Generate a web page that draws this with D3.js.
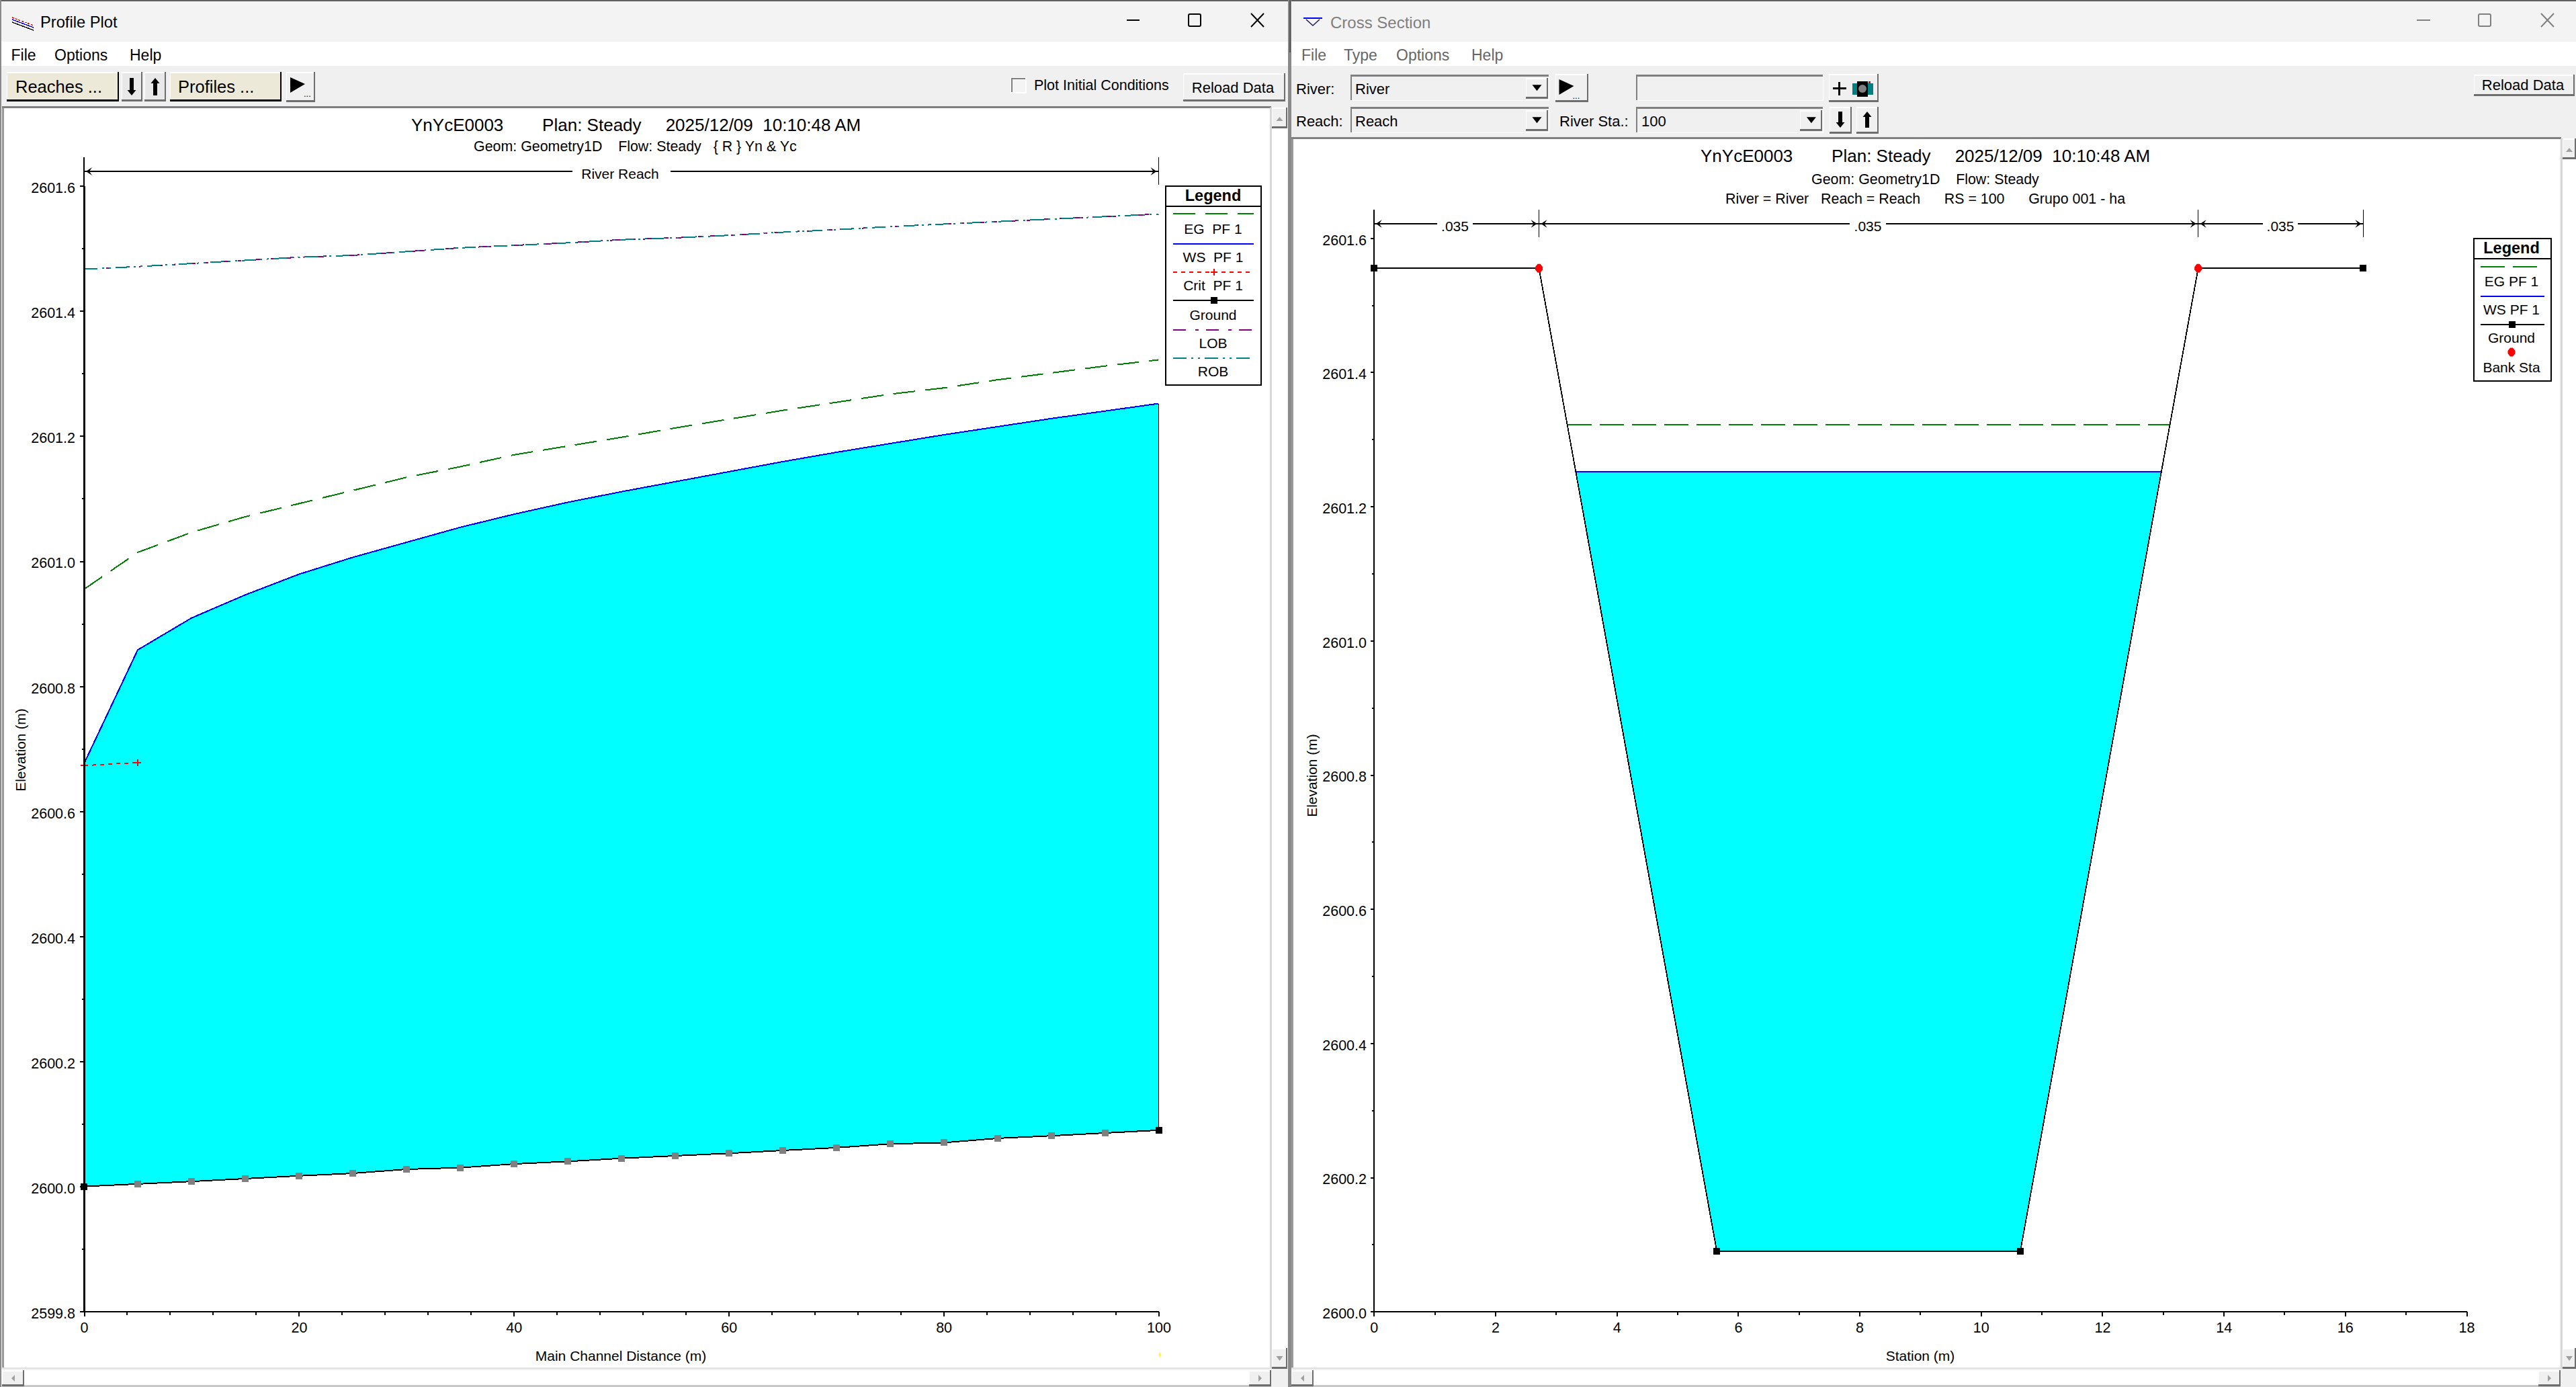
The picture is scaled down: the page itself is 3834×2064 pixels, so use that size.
<!DOCTYPE html>
<html><head><meta charset="utf-8">
<script src="https://cdn.jsdelivr.net/npm/d3@7/dist/d3.min.js"></script>
<style>
html,body{margin:0;padding:0;background:#f0f0f0;overflow:hidden}
svg{display:block}
text{font-family:"Liberation Sans",Arial,sans-serif;white-space:pre;fill:#000}
.crisp{shape-rendering:crispEdges}
</style></head><body>
<script>
// ---- Profile plot data
const profileStations=[0,5,10,15,20,25,30,35,40,45,50,55,60,65,70,75,80,85,90,95,100];
const groundElev=[2600.000,2600.004,2600.008,2600.0125,2600.017,2600.021,2600.0275,2600.030,2600.036,2600.040,2600.045,2600.049,2600.053,2600.0576,2600.062,2600.068,2600.070,2600.077,2600.081,2600.0855,2600.090];
const wsElev=[2600.676,2600.858,2600.909,2600.946,2600.979,2601.006,2601.030,2601.054,2601.075,2601.094,2601.111,2601.127,2601.143,2601.159,2601.174,2601.188,2601.202,2601.215,2601.228,2601.240,2601.252];
const egElev=[2600.955,2601.014,2601.046,2601.071,2601.092,2601.113,2601.134,2601.151,2601.170,2601.184,2601.198,2601.213,2601.227,2601.241,2601.254,2601.267,2601.277,2601.290,2601.301,2601.312,2601.322];
const bankElev=[2601.467,2601.471,2601.476,2601.481,2601.486,2601.489,2601.495,2601.501,2601.505,2601.509,2601.514,2601.517,2601.521,2601.526,2601.530,2601.535,2601.539,2601.543,2601.547,2601.551,2601.555];
const critStations=[0,5];
const critElev=[2600.673,2600.678];
const profileYTicks=[2599.8,2600.0,2600.2,2600.4,2600.6,2600.8,2601.0,2601.2,2601.4,2601.6];
const profileYMinor=[2599.9,2600.1,2600.3,2600.5,2600.7,2600.9,2601.1,2601.3,2601.5];
const profileXTicks=[0,20,40,60,80,100];
const profileXMinor=[4,8,12,16,24,28,32,36,44,48,52,56,64,68,72,76,84,88,92,96];
const profileLegend=["EG  PF 1","WS  PF 1","Crit  PF 1","Ground","LOB","ROB"];
// ---- Cross section data
const xsStations=[0,2.72,5.65,10.65,13.58,16.3];
const xsGround=[2601.555,2601.555,2600.09,2600.09,2601.555,2601.555];
const xsBankStations=[2.72,13.58];
const xsBankElev=[2601.555,2601.555];
const xsEndStations=[0,5.65,10.65,16.3];
const xsEndElev=[2601.555,2600.09,2600.09,2601.555];
const xsWaterStations=[3.33,5.65,10.65,12.97];
const xsWaterFloor=[2601.252,2600.09,2600.09,2601.252];
const xsWsLevel=2601.252;
const xsEgStations=[3.19,13.11];
const xsEgLevel=2601.322;
const xsYTicks=[2600.0,2600.2,2600.4,2600.6,2600.8,2601.0,2601.2,2601.4,2601.6];
const xsYMinor=[2600.1,2600.3,2600.5,2600.7,2600.9,2601.1,2601.3,2601.5];
const xsXTicks=[0,2,4,6,8,10,12,14,16,18];
const xsXMinor=[1,3,5,7,9,11,13,15,17];
const xsLegend=["EG PF 1","WS PF 1","Ground","Bank Sta"];
const manningN=[".035",".035",".035"];
const manningBreaks=[0,2.72,13.58,16.3];

const W=3834,H=2064;
const C={eg:"#008000",ws:"#0000ff",crit:"#ff0000",lob:"#800080",rob:"#008080",fill:"#00ffff",marker:"#808080"};
const DASH={eg:"33,15",crit:"6,6",lob:"19,14,5,11",rob:"20,7,3,7,3,7",xsEg:"36,12"};

const svg=d3.select("body").append("svg").attr("width",W).attr("height",H).attr("viewBox",`0 0 ${W} ${H}`);

function T(x,y,s,size,opt={}){
  return svg.append("text").attr("x",x).attr("y",y).attr("font-size",size)
    .attr("text-anchor",opt.anchor||"start").attr("dominant-baseline","central")
    .attr("font-weight",opt.bold?"bold":null).style("fill",opt.fill||"#000")
    .attr("transform",opt.rot?`rotate(-90 ${x} ${y})`:null).text(s);
}
function R(x0,y0,x1,y1,fill,g){return (g||svg).append("rect").attr("class","crisp").attr("x",x0).attr("y",y0).attr("width",x1-x0).attr("height",y1-y0).attr("fill",fill);}
function L(x0,y0,x1,y1,col,w,dash){return svg.append("line").attr("class","crisp").attr("x1",x0).attr("y1",y0).attr("x2",x1).attr("y2",y1).attr("stroke",col).attr("stroke-width",w).attr("stroke-dasharray",dash||null);}
function P(d,fill,stroke,w){return svg.append("path").attr("d",d).attr("fill",fill||"none").attr("stroke",stroke||"none").attr("stroke-width",w||0);}
function btn(x0,y0,x1,y1,fill,dark){
  R(x0,y0,x1,y1,dark||"#6e6e6e");
  R(x0,y0,x1-2,y1-3,"#ffffff");
  R(x0+1,y0+2,x1-2,y1-3,fill);
}
function sunken(x0,y0,x1,y1){
  R(x0,y0,x1,y1,"#ffffff");
  R(x0,y0,x1-1,y1-1,"#808080");
  R(x0+2,y0+3,x1-2,y1-2,"#ececec");
  R(x0+2,y0+3,x1-1,y1-1,"#f0f0f0");
}
function arrowDown(cx,y0,y1,w){R(cx-w/5,y0,cx+w/5,y1-7,"#000");P(`M${cx-w/2},${y1-8}L${cx+w/2},${y1-8}L${cx},${y1}Z`,"#000");}
function arrowUp(cx,y0,y1,w){R(cx-w/5,y0+7,cx+w/5,y1,"#000");P(`M${cx-w/2},${y0+8}L${cx+w/2},${y0+8}L${cx},${y0}Z`,"#000");}
function play(x0,y0,x1,y1){
  btn(x0,y0,x1,y1,"#f0f0f0");
  P(`M${x0+6},${y0+8}L${x0+28},${y0+18}L${x0+6},${y0+31}Z`,"#000");
  T(x0+26,y0+32,"...",13);
}

// ---- window chrome
R(0,0,W,H,"#f0f0f0");
R(0,0,W,2,"#5f5f5f");
R(0,2,1918,62,"#f3f3f3");
R(1922,2,W,62,"#f3f3f3");
R(0,62,1918,98,"#ffffff");
R(1922,62,W,98,"#ffffff");
R(0,0,2,H,"#8a8a8a");
R(1917,0,1922,H,"#8a8a8a");
R(1919,0,1921,78,"#555555");
// plot panels
R(3,158,1892,161,"#808080");
R(3,161,6,2036,"#9a9a9a");
R(6,161,1890,2036,"#ffffff");
R(1922,204,3812,207,"#808080");
R(1922,207,1925,2036,"#9a9a9a");
R(1925,207,3810,2036,"#ffffff");
// scrollbars
function vScroll(x0,x1,top){
  R(x0-3,top,x1,2037,"#d8d8d8");
  R(x0,top,x1,2037,"#ffffff");
  btn(x0,top,x1,top+31,"#f0f0f0");
  P(`M${(x0+x1)/2-5},${top+20}L${(x0+x1)/2+5},${top+20}L${(x0+x1)/2},${top+14}Z`,"#a0a0a0");
  btn(x0,2006,x1,2037,"#f0f0f0");
  P(`M${(x0+x1)/2-5},${2018}L${(x0+x1)/2+5},${2018}L${(x0+x1)/2},${2025}Z`,"#a0a0a0");
}
vScroll(1893,1916,160);
vScroll(3814,3834,206);
function hScroll(x0,x1){
  R(x0,2035,x1,2037,"#e0e0e0");
  R(x0,2039,x1,2061,"#ffffff");
  R(x0,2061,x1,2064,"#c8c8c8");
  btn(x0,2039,x0+33,2063,"#f0f0f0");
  P(`M${x0+19},${2046}L${x0+19},${2056}L${x0+14},${2051}Z`,"#a0a0a0");
  btn(x1-33,2039,x1,2063,"#f0f0f0");
  P(`M${x1-19},${2046}L${x1-19},${2056}L${x1-14},${2051}Z`,"#a0a0a0");
}
hScroll(3,1892);
hScroll(1922,3811);

// ---- left window header
L(18,26,50,38,"#ff0000",1.5,"3,2");L(18,29,50,41,"#0000ff",1.5);L(18,33,50,45,"#000",1.5);
T(60,33,"Profile Plot",23.7);
L(1677,30,1696,30,"#000",2);
svg.append("rect").attr("x",1769).attr("y",21).attr("width",18).attr("height",18).attr("rx",2).attr("fill","none").attr("stroke","#000").attr("stroke-width",2);
P("M1862,20L1881,40M1881,20L1862,40",null,"#000",2);
T(16.5,82,"File",23);T(81,82,"Options",23);T(193,82,"Help",23);
btn(10,107,177,151,"#ece9d8","#000");T(23,129,"Reaches ...",25.5);
btn(180.5,107,212,151,"#e8e8e8");arrowDown(196,116,142,13);
btn(215,107,247,151,"#e8e8e8");arrowUp(231,116,142,13);
btn(252.5,107,419,151,"#ece9d8","#000");T(265,129,"Profiles ...",25.5);
play(426,107,469,152);
R(1504,115,1528,139,"#ffffff");R(1505,116,1526,137,"#808080");R(1507,118,1526,137,"#f4f4f4");
T(1539,126.5,"Plot Initial Conditions",21.5);
btn(1761,109,1913,151,"#f0f0f0");T(1835,130.5,"Reload Data",22,{anchor:"middle"});

// ---- right window header
const dim="#7f7f7f";
P("M1940,27L1968,27M1944,29L1954,38L1964,29",null,"#202060",1.6);L(1940,27,1968,27,"#0000ff",1.5);
T(1980,33,"Cross Section",24,{fill:dim});
L(3597,30,3617,30,dim,2);
svg.append("rect").attr("x",3689).attr("y",21).attr("width",18).attr("height",18).attr("rx",2).attr("fill","none").attr("stroke",dim).attr("stroke-width",2);
P("M3782,20L3801,40M3801,20L3782,40",null,dim,2);
T(1937,82,"File",23,{fill:"#666"});T(2000,82,"Type",23,{fill:"#666"});T(2078,82,"Options",23,{fill:"#666"});T(2190,82,"Help",23,{fill:"#666"});
T(1929,132.7,"River:",22);T(1929,180,"Reach:",22);
function combo(x0,y0,x1,y1,s,tx){
  sunken(x0,y0,x1,y1);
  btn(x1-35,y0+5,x1-2,y1-3,"#f0f0f0");
  const cx=x1-18.5,cy=(y0+y1)/2;
  P(`M${cx-7},${cy-4}L${cx+7},${cy-4}L${cx},${cy+5}Z`,"#000");
  if(s)T(tx,cy+2,s,22);
}
combo(2010,110.7,2306,150,"River",2017);
combo(2010,158.7,2306,198,"Reach",2017);
play(2314.5,110,2364,152);
sunken(2434.5,110.7,2714.4,150);
btn(2722,110,2796,152,"#f0f0f0");
R(2736,122,2739,142,"#000");R(2728,130,2748,133,"#000");
R(2757,124,2788,141,"#008080");R(2764,121,2780,144,"#000");
svg.append("circle").attr("cx",2772).attr("cy",132).attr("r",6).attr("fill","#808080");
R(2781,121,2784,124,"#ff0000");
T(2321,180,"River Sta.:",22);
combo(2434.5,158.7,2714.4,198,"100",2443);
btn(2722.7,158.7,2756,199,"#f0f0f0");arrowDown(2739,166,190,13);
btn(2763,158.7,2796,199,"#f0f0f0");arrowUp(2779,166,190,13);
btn(3682,111,3832,143,"#f0f0f0");T(3755,126.5,"Reload Data",22,{anchor:"middle"});

// ---- scales
const xL=d3.scaleLinear().domain([0,100]).range([125,1724.5]);
const yL=d3.scaleLinear().domain([2599.8,2601.6]).range([1951.7,276.7]);
const xR=d3.scaleLinear().domain([0,18]).range([2044.8,3671]);
const yR=d3.scaleLinear().domain([2600,2601.6]).range([1951.7,354.3]);
const fmt=d3.format(".1f");

function chevron(x,y,dir){const d=dir;return `M${x},${y}L${x+d*9},${y-6}L${x+d*5},${y}L${x+d*9},${y+6}Z`;}
function plusPath(x,y,r){return `M${x-r},${y}L${x+r},${y}M${x},${y-r}L${x},${y+r}`;}

// ---- profile titles
T(612,186,"YnYcE0003        Plan: Steady     2025/12/09  10:10:48 AM",26);
T(705,218,"Geom: Geometry1D    Flow: Steady   { R } Yn & Yc",21.4);

// ---- profile marks
const rows=profileStations.map((s,i)=>({s,g:groundElev[i],w:wsElev[i],e:egElev[i],b:bankElev[i]}));
const lineOf=(key)=>d3.line().x(d=>xL(d.s)).y(d=>yL(d[key]));
svg.append("path").datum(rows).attr("class","crisp").attr("fill",C.fill)
  .attr("d",d3.area().x(d=>xL(d.s)).y0(d=>yL(d.g)).y1(d=>yL(d.w)));
function prof(key,col,dash){svg.append("path").datum(rows).attr("class","crisp").attr("fill","none").attr("stroke",col).attr("stroke-width",2).attr("stroke-dasharray",dash||null).attr("d",lineOf(key));}
prof("e",C.eg,DASH.eg);
prof("b",C.lob,DASH.lob);
prof("b",C.rob,DASH.rob);
prof("w",C.ws);
const last=rows[rows.length-1];
L(xL(last.s),yL(last.w),xL(last.s),yL(last.g),"#000",1.5);
prof("g","#000");
const crit=critStations.map((s,i)=>[xL(s),yL(critElev[i])]);
svg.append("path").attr("class","crisp").attr("fill","none").attr("stroke",C.crit).attr("stroke-width",2).attr("stroke-dasharray",DASH.crit).attr("d",d3.line()(crit));
crit.forEach(p=>P(plusPath(p[0],p[1],5),null,C.crit,2).attr("class","crisp"));

// markers
svg.append("g").selectAll("rect").data(rows.slice(1,-1)).join("rect").attr("class","crisp")
  .attr("x",d=>xL(d.s)-5).attr("y",d=>yL(d.g)-5).attr("width",10).attr("height",10).attr("fill",C.marker);
svg.append("g").selectAll("rect").data([rows[0],last]).join("rect").attr("class","crisp")
  .attr("x",d=>xL(d.s)-5).attr("y",d=>yL(d.g)-5).attr("width",10).attr("height",10).attr("fill","#000");

// ---- axes
function styleAxis(g,w){
  g.attr("font-family",null).attr("font-size",null);
  g.selectAll(".domain").attr("stroke","#000").attr("stroke-width",w).attr("class","domain crisp");
  g.selectAll("line").attr("stroke","#000").attr("stroke-width",2).attr("class","crisp");
  g.selectAll("text").attr("font-size",21.5);
}
function axes(x,y,xT,xM,yT,yM,yTop,majY,padY,w){
  const ax=svg.append("g").attr("transform",`translate(0,${y.range()[0]})`)
    .call(d3.axisBottom(x).tickValues(xT).tickFormat(d3.format("d")).tickSize(7).tickSizeOuter(0).tickPadding(9));
  styleAxis(ax,2.5);
  const axm=svg.append("g").attr("transform",`translate(0,${y.range()[0]})`)
    .call(d3.axisBottom(x).tickValues(xM).tickFormat("").tickSize(5).tickSizeOuter(0));
  axm.select(".domain").remove();styleAxis(axm,2);
  const ay=svg.append("g").attr("transform",`translate(${x.range()[0]},0)`)
    .call(d3.axisLeft(y).tickValues(yT).tickFormat(fmt).tickSize(majY).tickSizeOuter(0).tickPadding(padY));
  styleAxis(ay,w);
  ay.selectAll("text").attr("y",3);
  const aym=svg.append("g").attr("transform",`translate(${x.range()[0]},0)`)
    .call(d3.axisLeft(y).tickValues(yM).tickFormat("").tickSize(3).tickSizeOuter(0));
  aym.select(".domain").remove();styleAxis(aym,2);
  L(x.range()[0],yTop,x.range()[0],y.range()[0],"#000",w);
}
axes(xL,yL,profileXTicks,profileXMinor,profileYTicks,profileYMinor,234,6,7,2);
T(924,2017,"Main Channel Distance (m)",21,{anchor:"middle"});
T(30,1116,"Elevation (m)",21,{anchor:"middle",rot:true});
R(1725,2013,1727,2019,"#ffff00");

// reach arrow
const rY=255;
L(xL(100),234,xL(100),275,"#000",1.5);
L(xL(0),rY,852,rY,"#000",2.5);L(998,rY,xL(100),rY,"#000",2.5);
P(chevron(xL(0)+3,rY,1),"#000");P(chevron(xL(100)-3,rY,-1),"#000");
T(923,258,"River Reach",21,{anchor:"middle"});

// ---- legend builder
function box(x0,y0,x1,y1,ruleY,cx,ty){
  svg.append("rect").attr("class","crisp").attr("x",x0).attr("y",y0).attr("width",x1-x0).attr("height",y1-y0).attr("fill","#fff").attr("stroke","#000").attr("stroke-width",2);
  L(x0,ruleY,x1,ruleY,"#000",2);
  T(cx,ty,"Legend",23.5,{anchor:"middle",bold:true});
}
box(1735,277,1877,573,307,1805.5,290.6);
const lgLineY=[318,362.6,405,447,490.7,532.6],lgTextY=[340,382,424,468,510,552];
profileLegend.forEach((s,i)=>T(1805.5,lgTextY[i],s,21,{anchor:"middle"}));
L(1746,lgLineY[0],1866,lgLineY[0],C.eg,2,DASH.eg);
L(1746,lgLineY[1],1866,lgLineY[1],C.ws,2);
L(1746,lgLineY[2],1860,lgLineY[2],C.crit,2,DASH.crit);P(plusPath(1807,lgLineY[2],5),null,C.crit,2).attr("class","crisp");
L(1746,lgLineY[3],1866,lgLineY[3],"#000",2);R(1802,lgLineY[3]-5,1812,lgLineY[3]+5,"#000");
L(1746,lgLineY[4],1866,lgLineY[4],C.lob,2,DASH.lob);
L(1746,lgLineY[5],1860,lgLineY[5],C.rob,2,DASH.rob);

// ---- cross section titles
T(2531,232,"YnYcE0003        Plan: Steady     2025/12/09  10:10:48 AM",26);
T(2696,266.7,"Geom: Geometry1D    Flow: Steady",21.4);
T(2568,296,"River = River   Reach = Reach      RS = 100      Grupo 001 - ha",21.4);

// ---- cross section marks
const water=xsWaterStations.map((s,i)=>({s,f:xsWaterFloor[i]}));
svg.append("path").datum(water).attr("class","crisp").attr("fill",C.fill)
  .attr("d",d3.area().x(d=>xR(d.s)).y0(d=>yR(d.f)).y1(()=>yR(xsWsLevel)));
L(xR(xsWaterStations[0]),yR(xsWsLevel),xR(xsWaterStations[3]),yR(xsWsLevel),C.ws,2);
L(xR(xsEgStations[0]),yR(xsEgLevel),xR(xsEgStations[1]),yR(xsEgLevel),C.eg,2,DASH.xsEg);
svg.append("path").datum(xsStations.map((s,i)=>[xR(s),yR(xsGround[i])])).attr("class","crisp")
  .attr("fill","none").attr("stroke","#000").attr("stroke-width",1.8).attr("d",d3.line());
axes(xR,yR,xsXTicks,xsXMinor,xsYTicks,xsYMinor,312,5,5.8,2);
svg.append("g").selectAll("rect").data(xsEndStations.map((s,i)=>({s,e:xsEndElev[i]}))).join("rect").attr("class","crisp")
  .attr("x",d=>xR(d.s)-5).attr("y",d=>yR(d.e)-5).attr("width",10).attr("height",10).attr("fill","#000");
const diamond=(x,y)=>`M${x-2},${y-6.5}L${x+2},${y-6.5}L${x+5.5},${y-2}L${x+5.5},${y+2}L${x+2},${y+6.5}L${x-2},${y+6.5}L${x-5.5},${y+2}L${x-5.5},${y-2}Z`;
svg.append("g").selectAll("path").data(xsBankStations.map((s,i)=>({s,e:xsBankElev[i]}))).join("path")
  .attr("d",d=>diamond(xR(d.s),yR(d.e))).attr("fill",C.crit);
T(2858,2017,"Station (m)",21,{anchor:"middle"});
T(1952,1154,"Elevation (m)",21,{anchor:"middle",rot:true});

// manning bands
const mY=333;
const gaps=[[2139,2192],[2753,2807],[3368,3420]];
manningBreaks.forEach((s,i)=>{if(i>0)L(xR(s),312,xR(s),353,"#000",1.5);});
manningN.forEach((n,i)=>{
  const a=xR(manningBreaks[i]),b=xR(manningBreaks[i+1]);
  L(a,mY,gaps[i][0],mY,"#000",2.5);L(gaps[i][1],mY,b,mY,"#000",2.5);
  P(chevron(a+3,mY,1),"#000");P(chevron(b-3,mY,-1),"#000");
  T((gaps[i][0]+gaps[i][1])/2,336,n,21,{anchor:"middle"});
});

// right legend
box(3682,355,3797,567,385,3738,368.5);
const lg2Text=[418,460,502,546];
xsLegend.forEach((s,i)=>T(3738,lg2Text[i],s,21,{anchor:"middle"}));
L(3692,396.6,3787,396.6,C.eg,2,DASH.xsEg);
L(3692,440.5,3787,440.5,C.ws,2);
L(3692,483,3787,483,"#000",2);R(3734,478,3744,488,"#000");
P(diamond(3738,524),C.crit);
</script>
</body></html>
